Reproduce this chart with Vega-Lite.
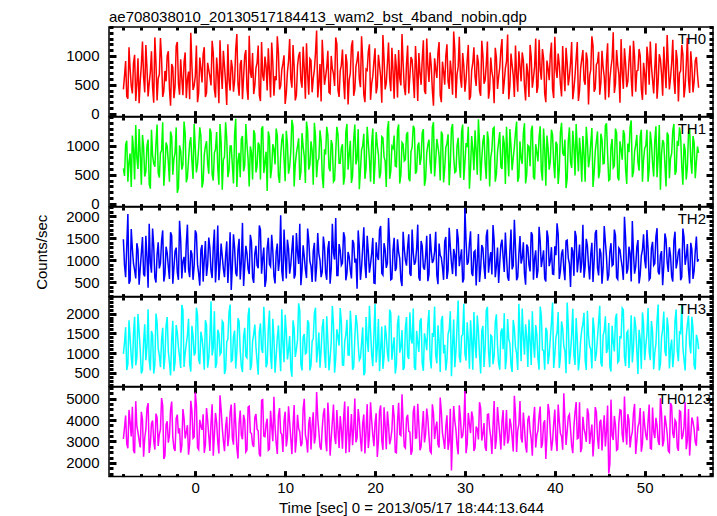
{
"$schema": "https://vega.github.io/schema/vega-lite/v6.json",
"padding": {"left": 33, "top": 8, "right": 6, "bottom": 0},
"spacing": 0,
"bounds": "flush",
"config": {
  "view": {"stroke": "black", "strokeWidth": 1.5},
  "font": "Liberation Sans",
  "axis": {"domain": false, "grid": false, "ticks": true, "tickColor": "black", "tickWidth": 3, "labelFont": "Liberation Sans", "labelFontSize": 15, "labelColor": "black", "labelOverlap": false, "labelFlush": false, "titleFont": "Liberation Sans", "titleFontSize": 15, "titleFontWeight": "normal", "titleColor": "black", "format": "d"},
  "title": {"fontSize": 15, "fontWeight": "normal", "font": "Liberation Sans", "color": "black"}
},
"data": {"values": [
{"t":-8,"a":420,"b":610,"c":1480,"d":980,"e":3120},
{"t":-7.75,"a":910,"b":1020,"c":620,"d":1650,"e":4210},
{"t":-7.5,"a":260,"b":380,"c":2050,"d":720,"e":2680},
{"t":-7.25,"a":780,"b":870,"c":540,"d":1380,"e":3890},
{"t":-7,"a":350,"b":1180,"c":1260,"d":610,"e":4620},
{"t":-6.75,"a":1020,"b":420,"c":780,"d":1920,"e":2450},
{"t":-6.5,"a":510,"b":790,"c":1390,"d":890,"e":3710},
{"t":-6.25,"a":180,"b":1290,"c":450,"d":1540,"e":3050},
{"t":-6,"a":840,"b":330,"c":1170,"d":480,"e":4380},
{"t":-5.75,"a":630,"b":980,"c":690,"d":1270,"e":2290},
{"t":-5.5,"a":1190,"b":560,"c":1560,"d":820,"e":3560},
{"t":-5.25,"a":300,"b":1110,"c":380,"d":2110,"e":4790},
{"t":-5,"a":720,"b":260,"c":940,"d":560,"e":2870},
{"t":-4.75,"a":460,"b":830,"c":1720,"d":1460,"e":3980},
{"t":-4.5,"a":1320,"b":640,"c":610,"d":700,"e":2620},
{"t":-4.25,"a":230,"b":1370,"c":1130,"d":1780,"e":4110},
{"t":-4,"a":680,"b":450,"c":820,"d":940,"e":3330},
{"t":-3.75,"a":950,"b":920,"c":1450,"d":1330,"e":5020},
{"t":-3.5,"a":390,"b":310,"c":520,"d":590,"e":2180},
{"t":-3.25,"a":560,"b":1060,"c":1310,"d":1690,"e":3780},
{"t":-3,"a":1080,"b":720,"c":860,"d":1040,"e":2940},
{"t":-2.75,"a":140,"b":1250,"c":1640,"d":430,"e":4470},
{"t":-2.5,"a":800,"b":500,"c":470,"d":1820,"e":3190},
{"t":-2.25,"a":470,"b":880,"c":1210,"d":760,"e":2560},
{"t":-2,"a":1240,"b":190,"c":730,"d":1510,"e":4250},
{"t":-1.75,"a":330,"b":1010,"c":1900,"d":910,"e":3610},
{"t":-1.5,"a":610,"b":590,"c":590,"d":2220,"e":2790},
{"t":-1.25,"a":890,"b":1420,"c":1080,"d":650,"e":4080},
{"t":-1,"a":270,"b":370,"c":1380,"d":1230,"e":3420},
{"t":-0.75,"a":730,"b":760,"c":800,"d":1870,"e":2380},
{"t":-0.5,"a":1400,"b":1150,"c":1230,"d":530,"e":4900},
{"t":-0.25,"a":410,"b":430,"c":560,"d":1440,"e":3150},
{"t":0,"a":650,"b":960,"c":1680,"d":1010,"e":5280},
{"t":0.25,"a":200,"b":680,"c":910,"d":1960,"e":2710},
{"t":0.5,"a":970,"b":1320,"c":430,"d":720,"e":4010},
{"t":0.75,"a":540,"b":280,"c":1350,"d":1370,"e":3540},
{"t":1,"a":1150,"b":850,"c":1020,"d":580,"e":2470},
{"t":1.25,"a":360,"b":1080,"c":650,"d":1710,"e":4560},
{"t":1.5,"a":760,"b":520,"c":1520,"d":870,"e":3280},
{"t":1.75,"a":490,"b":1230,"c":760,"d":2310,"e":3870},
{"t":2,"a":1050,"b":400,"c":1290,"d":1130,"e":2330},
{"t":2.25,"a":280,"b":940,"c":500,"d":620,"e":4330},
{"t":2.5,"a":700,"b":620,"c":1790,"d":1590,"e":2980},
{"t":2.75,"a":1270,"b":1380,"c":880,"d":960,"e":5150},
{"t":3,"a":430,"b":240,"c":1100,"d":1810,"e":3640},
{"t":3.25,"a":820,"b":810,"c":620,"d":470,"e":2550},
{"t":3.5,"a":150,"b":1120,"c":1430,"d":1290,"e":4150},
{"t":3.75,"a":590,"b":570,"c":960,"d":2020,"e":3260},
{"t":4,"a":930,"b":1000,"c":330,"d":790,"e":4720},
{"t":4.25,"a":380,"b":350,"c":1590,"d":1420,"e":2850},
{"t":4.5,"a":1120,"b":1470,"c":720,"d":610,"e":3800},
{"t":4.75,"a":520,"b":730,"c":1240,"d":1880,"e":2200},
{"t":5,"a":860,"b":460,"c":570,"d":1060,"e":4440},
{"t":5.25,"a":250,"b":1170,"c":1850,"d":520,"e":3100},
{"t":5.5,"a":1010,"b":660,"c":880,"d":1640,"e":3990},
{"t":5.75,"a":440,"b":1030,"c":1160,"d":880,"e":2600},
{"t":6,"a":1350,"b":300,"c":690,"d":2150,"e":4640},
{"t":6.25,"a":620,"b":890,"c":1420,"d":680,"e":3370},
{"t":6.5,"a":340,"b":1270,"c":490,"d":1480,"e":2750},
{"t":6.75,"a":790,"b":540,"c":1330,"d":1150,"e":4280},
{"t":7,"a":1180,"b":1060,"c":820,"d":450,"e":3490},
{"t":7.25,"a":220,"b":420,"c":1690,"d":1750,"e":2300},
{"t":7.5,"a":660,"b":1340,"c":1050,"d":1000,"e":4950},
{"t":7.75,"a":990,"b":710,"c":400,"d":1550,"e":3220},
{"t":8,"a":400,"b":220,"c":1280,"d":730,"e":4060},
{"t":8.25,"a":740,"b":1150,"c":910,"d":2080,"e":2640},
{"t":8.5,"a":1230,"b":610,"c":1580,"d":600,"e":3720},
{"t":8.75,"a":310,"b":950,"c":640,"d":1360,"e":5080},
{"t":9,"a":580,"b":1300,"c":1190,"d":930,"e":2920},
{"t":9.25,"a":1060,"b":480,"c":760,"d":1700,"e":4190},
{"t":9.5,"a":480,"b":830,"c":2020,"d":540,"e":3410},
{"t":9.75,"a":870,"b":1210,"c":530,"d":1250,"e":2510},
{"t":10,"a":170,"b":390,"c":1110,"d":1970,"e":4390},
{"t":10.25,"a":720,"b":1040,"c":1470,"d":840,"e":3180},
{"t":10.5,"a":1290,"b":640,"c":700,"d":1430,"e":3900},
{"t":10.75,"a":450,"b":1450,"c":1250,"d":400,"e":2410},
{"t":11,"a":810,"b":300,"c":590,"d":1620,"e":4700},
{"t":11.25,"a":320,"b":870,"c":1620,"d":1090,"e":3060},
{"t":11.5,"a":1000,"b":1130,"c":920,"d":2260,"e":3610},
{"t":11.75,"a":570,"b":550,"c":440,"d":700,"e":2780},
{"t":12,"a":1160,"b":990,"c":1340,"d":1400,"e":4520},
{"t":12.25,"a":260,"b":360,"c":790,"d":980,"e":3300},
{"t":12.5,"a":690,"b":1260,"c":1720,"d":1830,"e":2480},
{"t":12.75,"a":950,"b":670,"c":980,"d":560,"e":4140},
{"t":13,"a":370,"b":920,"c":510,"d":1300,"e":3750},
{"t":13.25,"a":760,"b":1400,"c":1400,"d":2000,"e":2900},
{"t":13.5,"a":1440,"b":460,"c":860,"d":760,"e":5310},
{"t":13.75,"a":530,"b":780,"c":1150,"d":1520,"e":3460},
{"t":14,"a":210,"b":1090,"c":620,"d":1080,"e":2610},
{"t":14.25,"a":880,"b":270,"c":1540,"d":1860,"e":4290},
{"t":14.5,"a":640,"b":850,"c":730,"d":620,"e":3030},
{"t":14.75,"a":1090,"b":1190,"c":1260,"d":1330,"e":4810},
{"t":15,"a":350,"b":560,"c":470,"d":870,"e":2340},
{"t":15.25,"a":780,"b":1020,"c":1830,"d":2190,"e":3930},
{"t":15.5,"a":480,"b":410,"c":1020,"d":500,"e":3220},
{"t":15.75,"a":1210,"b":1330,"c":660,"d":1600,"e":4470},
{"t":16,"a":290,"b":700,"c":1370,"d":1190,"e":2700},
{"t":16.25,"a":840,"b":960,"c":890,"d":1790,"e":3580},
{"t":16.5,"a":560,"b":330,"c":1640,"d":690,"e":4080},
{"t":16.75,"a":1030,"b":1240,"c":550,"d":1470,"e":2450},
{"t":17,"a":160,"b":590,"c":1190,"d":950,"e":4640},
{"t":17.25,"a":700,"b":1090,"c":780,"d":2070,"e":3360},
{"t":17.5,"a":1270,"b":480,"c":1460,"d":580,"e":2820},
{"t":17.75,"a":420,"b":1370,"c":950,"d":1390,"e":5000},
{"t":18,"a":920,"b":780,"c":360,"d":1720,"e":3150},
{"t":18.25,"a":600,"b":250,"c":1310,"d":820,"e":4000},
{"t":18.5,"a":1340,"b":930,"c":840,"d":1240,"e":2530},
{"t":18.75,"a":330,"b":1210,"c":1750,"d":440,"e":4260},
{"t":19,"a":770,"b":620,"c":600,"d":1910,"e":3480},
{"t":19.25,"a":1070,"b":1050,"c":1200,"d":1030,"e":2690},
{"t":19.5,"a":240,"b":380,"c":920,"d":1560,"e":4830},
{"t":19.75,"a":650,"b":1300,"c":1510,"d":670,"e":3290},
{"t":20,"a":1130,"b":700,"c":480,"d":2240,"e":3860},
{"t":20.25,"a":470,"b":1010,"c":1100,"d":1120,"e":2280},
{"t":20.5,"a":830,"b":440,"c":1690,"d":540,"e":4410},
{"t":20.75,"a":190,"b":1160,"c":710,"d":1670,"e":3040},
{"t":21,"a":960,"b":810,"c":1390,"d":900,"e":4590},
{"t":21.25,"a":530,"b":290,"c":830,"d":1440,"e":2640},
{"t":21.5,"a":1230,"b":1430,"c":1960,"d":780,"e":3770},
{"t":21.75,"a":390,"b":560,"c":560,"d":2010,"e":3110},
{"t":22,"a":740,"b":960,"c":1240,"d":1160,"e":4700},
{"t":22.25,"a":1030,"b":650,"c":760,"d":480,"e":2500},
{"t":22.5,"a":280,"b":1280,"c":1480,"d":1740,"e":3950},
{"t":22.75,"a":610,"b":350,"c":1040,"d":1010,"e":3330},
{"t":23,"a":1380,"b":1060,"c":420,"d":1580,"e":5200},
{"t":23.25,"a":460,"b":740,"c":1270,"d":630,"e":2760},
{"t":23.5,"a":860,"b":1200,"c":880,"d":1910,"e":4090},
{"t":23.75,"a":350,"b":440,"c":1590,"d":850,"e":3470},
{"t":24,"a":980,"b":900,"c":650,"d":1350,"e":2380},
{"t":24.25,"a":600,"b":1350,"c":1180,"d":2130,"e":4380},
{"t":24.5,"a":1170,"b":520,"c":970,"d":570,"e":3160},
{"t":24.75,"a":220,"b":1000,"c":1810,"d":1260,"e":4760},
{"t":25,"a":710,"b":670,"c":540,"d":1800,"e":2590},
{"t":25.25,"a":940,"b":1230,"c":1330,"d":740,"e":3680},
{"t":25.5,"a":400,"b":310,"c":790,"d":1500,"e":2950},
{"t":25.75,"a":1300,"b":880,"c":1560,"d":1070,"e":4530},
{"t":26,"a":550,"b":1110,"c":680,"d":2090,"e":3240},
{"t":26.25,"a":830,"b":520,"c":1220,"d":610,"e":2460},
{"t":26.5,"a":140,"b":1410,"c":1000,"d":1410,"e":4320},
{"t":26.75,"a":770,"b":760,"c":1650,"d":940,"e":3640},
{"t":27,"a":1060,"b":990,"c":460,"d":1700,"e":2870},
{"t":27.25,"a":320,"b":400,"c":1120,"d":520,"e":5050},
{"t":27.5,"a":900,"b":1190,"c":850,"d":1940,"e":3400},
{"t":27.75,"a":500,"b":610,"c":1430,"d":1210,"e":2650},
{"t":28,"a":1200,"b":1040,"c":580,"d":830,"e":4220},
{"t":28.25,"a":430,"b":320,"c":1740,"d":1590,"e":3000},
{"t":28.5,"a":690,"b":1300,"c":940,"d":410,"e":1650},
{"t":28.75,"a":1420,"b":810,"c":1260,"d":1850,"e":4650},
{"t":29,"a":270,"b":560,"c":640,"d":1040,"e":3540},
{"t":29.25,"a":810,"b":1140,"c":1500,"d":2330,"e":2400},
{"t":29.5,"a":620,"b":450,"c":1060,"d":760,"e":4120},
{"t":29.75,"a":1050,"b":1370,"c":500,"d":1470,"e":3260},
{"t":30,"a":380,"b":720,"c":2180,"d":980,"e":5350},
{"t":30.25,"a":920,"b":980,"c":900,"d":1780,"e":2860},
{"t":30.5,"a":240,"b":260,"c":1380,"d":600,"e":3820},
{"t":30.75,"a":750,"b":1170,"c":710,"d":1320,"e":4400},
{"t":31,"a":1150,"b":580,"c":1190,"d":2040,"e":2560},
{"t":31.25,"a":480,"b":920,"c":430,"d":870,"e":3700},
{"t":31.5,"a":880,"b":1460,"c":1600,"d":1550,"e":3090},
{"t":31.75,"a":310,"b":400,"c":820,"d":480,"e":4570},
{"t":32,"a":1010,"b":1080,"c":1280,"d":1690,"e":3350},
{"t":32.25,"a":580,"b":690,"c":580,"d":1130,"e":2720},
{"t":32.5,"a":1250,"b":1250,"c":1700,"d":2170,"e":4260},
{"t":32.75,"a":420,"b":300,"c":1010,"d":640,"e":3590},
{"t":33,"a":730,"b":930,"c":680,"d":1420,"e":2420},
{"t":33.25,"a":180,"b":1320,"c":1450,"d":920,"e":4890},
{"t":33.5,"a":970,"b":510,"c":870,"d":1980,"e":3080},
{"t":33.75,"a":640,"b":1070,"c":490,"d":740,"e":3930},
{"t":34,"a":1110,"b":640,"c":1350,"d":1530,"e":2620},
{"t":34.25,"a":340,"b":1180,"c":1070,"d":1100,"e":4460},
{"t":34.5,"a":790,"b":340,"c":1630,"d":590,"e":3430},
{"t":34.75,"a":1370,"b":850,"c":620,"d":1860,"e":2900},
{"t":35,"a":470,"b":1290,"c":1200,"d":1240,"e":4070},
{"t":35.25,"a":850,"b":580,"c":800,"d":520,"e":3200},
{"t":35.5,"a":290,"b":980,"c":1920,"d":1620,"e":5130},
{"t":35.75,"a":670,"b":1420,"c":550,"d":990,"e":2510},
{"t":36,"a":1080,"b":460,"c":1140,"d":2250,"e":3790},
{"t":36.25,"a":560,"b":780,"c":930,"d":790,"e":3150},
{"t":36.5,"a":920,"b":1220,"c":1410,"d":1410,"e":4350},
{"t":36.75,"a":230,"b":350,"c":450,"d":1730,"e":2780},
{"t":37,"a":700,"b":1010,"c":1300,"d":650,"e":4010},
{"t":37.25,"a":1190,"b":650,"c":750,"d":1290,"e":3520},
{"t":37.5,"a":450,"b":1350,"c":1580,"d":2060,"e":2330},
{"t":37.75,"a":810,"b":420,"c":1040,"d":880,"e":4610},
{"t":38,"a":360,"b":890,"c":600,"d":1460,"e":3300},
{"t":38.25,"a":1280,"b":1150,"c":1760,"d":580,"e":4180},
{"t":38.5,"a":590,"b":570,"c":850,"d":1950,"e":2690},
{"t":38.75,"a":960,"b":1300,"c":1230,"d":1060,"e":3840},
{"t":39,"a":200,"b":310,"c":520,"d":1640,"e":2180},
{"t":39.25,"a":780,"b":970,"c":1530,"d":720,"e":4750},
{"t":39.5,"a":1020,"b":730,"c":990,"d":1370,"e":3410},
{"t":39.75,"a":430,"b":1190,"c":690,"d":2280,"e":3020},
{"t":40,"a":1330,"b":440,"c":1320,"d":950,"e":4490},
{"t":40.25,"a":620,"b":1020,"c":1840,"d":1520,"e":2550},
{"t":40.5,"a":850,"b":600,"c":580,"d":620,"e":3950},
{"t":40.75,"a":300,"b":1400,"c":1150,"d":1800,"e":3240},
{"t":41,"a":720,"b":830,"c":800,"d":1180,"e":5250},
{"t":41.25,"a":1140,"b":270,"c":1440,"d":490,"e":2840},
{"t":41.5,"a":490,"b":1080,"c":1050,"d":1700,"e":4150},
{"t":41.75,"a":870,"b":720,"c":400,"d":1020,"e":3560},
{"t":42,"a":250,"b":1260,"c":1210,"d":2120,"e":2450},
{"t":42.25,"a":660,"b":490,"c":1670,"d":700,"e":4370},
{"t":42.5,"a":1240,"b":940,"c":730,"d":1340,"e":3130},
{"t":42.75,"a":400,"b":1140,"c":1360,"d":850,"e":4830},
{"t":43,"a":950,"b":380,"c":960,"d":1590,"e":2700},
{"t":43.25,"a":580,"b":860,"c":610,"d":2020,"e":3600},
{"t":43.5,"a":1060,"b":1330,"c":1490,"d":570,"e":2980},
{"t":43.75,"a":160,"b":630,"c":880,"d":1450,"e":4290},
{"t":44,"a":760,"b":1050,"c":1140,"d":1090,"e":3380},
{"t":44.25,"a":1180,"b":290,"c":510,"d":1900,"e":2300},
{"t":44.5,"a":440,"b":910,"c":1620,"d":800,"e":4600},
{"t":44.75,"a":890,"b":1250,"c":830,"d":1390,"e":3180},
{"t":45,"a":330,"b":560,"c":1270,"d":2200,"e":3900},
{"t":45.25,"a":1090,"b":1110,"c":470,"d":660,"e":2580},
{"t":45.5,"a":640,"b":700,"c":1780,"d":1560,"e":4220},
{"t":45.75,"a":920,"b":1390,"c":1080,"d":1000,"e":3480},
{"t":46,"a":280,"b":400,"c":660,"d":1760,"e":1500},
{"t":46.25,"a":800,"b":980,"c":1390,"d":530,"e":4950},
{"t":46.5,"a":1410,"b":620,"c":910,"d":1280,"e":3070},
{"t":46.75,"a":520,"b":1300,"c":1560,"d":1870,"e":3750},
{"t":47,"a":840,"b":460,"c":570,"d":760,"e":2640},
{"t":47.25,"a":190,"b":1080,"c":1240,"d":1430,"e":4480},
{"t":47.5,"a":710,"b":760,"c":840,"d":2140,"e":3320},
{"t":47.75,"a":1130,"b":1200,"c":1990,"d":900,"e":5100},
{"t":48,"a":460,"b":340,"c":700,"d":1510,"e":2850},
{"t":48.25,"a":900,"b":890,"c":1310,"d":620,"e":3980},
{"t":48.5,"a":620,"b":1440,"c":520,"d":1960,"e":3210},
{"t":48.75,"a":1260,"b":550,"c":1170,"d":1140,"e":4320},
{"t":49,"a":380,"b":1020,"c":860,"d":1670,"e":2420},
{"t":49.25,"a":750,"b":720,"c":1460,"d":470,"e":3680},
{"t":49.5,"a":1000,"b":1160,"c":670,"d":1350,"e":4560},
{"t":49.75,"a":240,"b":380,"c":1230,"d":2030,"e":2900},
{"t":50,"a":690,"b":960,"c":1010,"d":820,"e":3750},
{"t":50.25,"a":1160,"b":1280,"c":1690,"d":1480,"e":3060},
{"t":50.5,"a":500,"b":600,"c":560,"d":1030,"e":4720},
{"t":50.75,"a":830,"b":1050,"c":1280,"d":1810,"e":2650},
{"t":51,"a":350,"b":470,"c":890,"d":590,"e":3450},
{"t":51.25,"a":1220,"b":1340,"c":1540,"d":1240,"e":4100},
{"t":51.5,"a":560,"b":810,"c":740,"d":2230,"e":3000},
{"t":51.75,"a":940,"b":240,"c":1120,"d":710,"e":5020},
{"t":52,"a":310,"b":1100,"c":440,"d":1600,"e":2770},
{"t":52.25,"a":780,"b":670,"c":1610,"d":1050,"e":4210},
{"t":52.5,"a":1360,"b":1230,"c":960,"d":1900,"e":3370},
{"t":52.75,"a":420,"b":440,"c":1300,"d":610,"e":2490},
{"t":53,"a":870,"b":870,"c":630,"d":1340,"e":4660},
{"t":53.25,"a":590,"b":1380,"c":1450,"d":980,"e":3160},
{"t":53.5,"a":1100,"b":560,"c":820,"d":2100,"e":3890},
{"t":53.75,"a":210,"b":1000,"c":1190,"d":790,"e":2560},
{"t":54,"a":740,"b":1170,"c":550,"d":1500,"e":4390},
{"t":54.25,"a":1020,"b":330,"c":1720,"d":1150,"e":3270},
{"t":54.5,"a":470,"b":930,"c":900,"d":560,"e":4830},
{"t":54.75,"a":1310,"b":640,"c":1370,"d":1730,"e":3040},
{"t":55,"a":360,"b":1310,"c":480,"d":1220,"e":2340},
{"t":55.25,"a":820,"b":520,"c":1250,"d":1920,"e":4120},
{"t":55.5,"a":560,"b":1060,"c":760,"d":690,"e":3570},
{"t":55.75,"a":980,"b":720,"c":1540,"d":1460,"e":2800},
{"t":56,"a":450,"b":880,"c":1030,"d":1100,"e":3500},
{"t":-7.875,"a":650,"b":480,"c":890,"d":1260,"e":3640},
{"t":-7.625,"a":300,"b":1090,"c":1320,"d":570,"e":2890},
{"t":-7.375,"a":1150,"b":720,"c":470,"d":1830,"e":4470},
{"t":-7.125,"a":480,"b":290,"c":1710,"d":900,"e":3230},
{"t":-6.875,"a":870,"b":940,"c":930,"d":1480,"e":2570},
{"t":-6.625,"a":220,"b":1360,"c":590,"d":690,"e":4880},
{"t":-6.375,"a":960,"b":600,"c":1240,"d":1990,"e":3420},
{"t":-6.125,"a":560,"b":850,"c":820,"d":1070,"e":2720},
{"t":-5.875,"a":1250,"b":1190,"c":1530,"d":560,"e":4010},
{"t":-5.625,"a":370,"b":470,"c":640,"d":1730,"e":3160},
{"t":-5.375,"a":790,"b":1000,"c":1070,"d":1180,"e":4540},
{"t":-5.125,"a":530,"b":340,"c":1830,"d":810,"e":2460},
{"t":-4.875,"a":1080,"b":1280,"c":720,"d":1560,"e":3830},
{"t":-4.625,"a":190,"b":700,"c":1330,"d":480,"e":3050},
{"t":-4.375,"a":880,"b":1030,"c":500,"d":2000,"e":4300},
{"t":-4.125,"a":610,"b":530,"c":1410,"d":1110,"e":2790},
{"t":-3.875,"a":1310,"b":880,"c":930,"d":640,"e":3560},
{"t":-3.625,"a":290,"b":1410,"c":1680,"d":1640,"e":4660},
{"t":-3.375,"a":740,"b":620,"c":680,"d":900,"e":2340},
{"t":-3.125,"a":1000,"b":990,"c":1170,"d":1910,"e":3940},
{"t":-2.875,"a":430,"b":380,"c":580,"d":760,"e":3280},
{"t":-2.625,"a":860,"b":1160,"c":1560,"d":1340,"e":4860},
{"t":-2.375,"a":270,"b":780,"c":840,"d":540,"e":2680},
{"t":-2.125,"a":1170,"b":1320,"c":1290,"d":1710,"e":4080},
{"t":-1.875,"a":520,"b":270,"c":560,"d":1150,"e":3370},
{"t":-1.625,"a":940,"b":920,"c":1470,"d":620,"e":2480},
{"t":-1.375,"a":320,"b":670,"c":980,"d":2090,"e":4510},
{"t":-1.125,"a":1060,"b":1220,"c":720,"d":1000,"e":3140},
{"t":-0.875,"a":590,"b":460,"c":1810,"d":1450,"e":3760},
{"t":-0.625,"a":250,"b":1050,"c":620,"d":720,"e":2890},
{"t":-0.375,"a":830,"b":730,"c":1150,"d":1690,"e":4420},
{"t":-0.125,"a":480,"b":1380,"c":880,"d":940,"e":3210},
{"t":0.125,"a":1180,"b":540,"c":1600,"d":2150,"e":4690},
{"t":0.375,"a":360,"b":960,"c":700,"d":840,"e":2620},
{"t":0.625,"a":790,"b":1170,"c":1240,"d":1540,"e":3700},
{"t":0.875,"a":1030,"b":380,"c":520,"d":1080,"e":4270},
{"t":1.125,"a":290,"b":990,"c":1440,"d":1830,"e":2850},
{"t":1.375,"a":880,"b":700,"c":890,"d":630,"e":3990},
{"t":1.625,"a":640,"b":1300,"c":1280,"d":1390,"e":2560},
{"t":1.875,"a":1260,"b":510,"c":600,"d":940,"e":4730},
{"t":2.125,"a":420,"b":880,"c":1700,"d":2060,"e":3310},
{"t":2.375,"a":970,"b":1240,"c":980,"d":740,"e":3890},
{"t":2.625,"a":180,"b":330,"c":550,"d":1500,"e":2440},
{"t":2.875,"a":740,"b":1060,"c":1380,"d":1010,"e":4500},
{"t":3.125,"a":1090,"b":760,"c":810,"d":1760,"e":3040},
{"t":3.375,"a":530,"b":1410,"c":1110,"d":590,"e":3680},
{"t":3.625,"a":1200,"b":460,"c":490,"d":1350,"e":2780},
{"t":3.875,"a":400,"b":1000,"c":1640,"d":2230,"e":4360},
{"t":4.125,"a":800,"b":660,"c":870,"d":820,"e":3150},
{"t":4.375,"a":570,"b":1200,"c":1280,"d":1570,"e":4790},
{"t":4.625,"a":1380,"b":290,"c":640,"d":1030,"e":2690},
{"t":4.875,"a":310,"b":880,"c":1490,"d":1800,"e":3840},
{"t":5.125,"a":930,"b":1120,"c":970,"d":660,"e":3300},
{"t":5.375,"a":640,"b":560,"c":420,"d":1420,"e":4240},
{"t":5.625,"a":1100,"b":1380,"c":1330,"d":920,"e":2510},
{"t":5.875,"a":240,"b":770,"c":800,"d":1950,"e":4600},
{"t":6.125,"a":720,"b":990,"c":1580,"d":570,"e":3420},
{"t":6.375,"a":1050,"b":420,"c":610,"d":1300,"e":2860},
{"t":6.625,"a":490,"b":1210,"c":1150,"d":1720,"e":4120},
{"t":6.875,"a":880,"b":650,"c":890,"d":790,"e":3570},
{"t":7.125,"a":320,"b":1010,"c":1790,"d":1530,"e":2400},
{"t":7.375,"a":1240,"b":1300,"c":700,"d":1100,"e":4920},
{"t":7.625,"a":570,"b":530,"c":1290,"d":2170,"e":3250},
{"t":7.875,"a":820,"b":900,"c":560,"d":640,"e":3800},
{"t":8.125,"a":1130,"b":1250,"c":1510,"d":1600,"e":2590},
{"t":8.375,"a":280,"b":440,"c":860,"d":950,"e":4430},
{"t":8.625,"a":890,"b":1030,"c":1220,"d":1870,"e":3010},
{"t":8.875,"a":650,"b":680,"c":480,"d":500,"e":3690},
{"t":9.125,"a":1340,"b":1180,"c":1380,"d":1380,"e":2420},
{"t":9.375,"a":420,"b":360,"c":1010,"d":1020,"e":4560},
{"t":9.625,"a":760,"b":1100,"c":760,"d":2110,"e":3330},
{"t":9.875,"a":1010,"b":760,"c":1700,"d":770,"e":3980},
{"t":10.125,"a":350,"b":1260,"c":590,"d":1560,"e":2770},
{"t":10.375,"a":910,"b":520,"c":1260,"d":1070,"e":4640},
{"t":10.625,"a":600,"b":900,"c":900,"d":610,"e":3140},
{"t":10.875,"a":1190,"b":1340,"c":1570,"d":1830,"e":3760},
{"t":11.125,"a":230,"b":680,"c":680,"d":900,"e":2480},
{"t":11.375,"a":830,"b":990,"c":1180,"d":1340,"e":4240},
{"t":11.625,"a":1070,"b":410,"c":1830,"d":2080,"e":3450},
{"t":11.875,"a":450,"b":1220,"c":780,"d":560,"e":2900},
{"t":12.125,"a":780,"b":820,"c":1090,"d":1480,"e":4990},
{"t":12.375,"a":1220,"b":1420,"c":600,"d":1010,"e":3050},
{"t":12.625,"a":330,"b":590,"c":1450,"d":1760,"e":3870},
{"t":12.875,"a":920,"b":1080,"c":870,"d":690,"e":2630},
{"t":13.125,"a":610,"b":330,"c":1210,"d":1370,"e":4360},
{"t":13.375,"a":1060,"b":1160,"c":520,"d":2150,"e":3240},
{"t":13.625,"a":280,"b":740,"c":1620,"d":1100,"e":4100},
{"t":13.875,"a":860,"b":1270,"c":1000,"d":630,"e":2750},
{"t":14.125,"a":1280,"b":480,"c":740,"d":1650,"e":3630},
{"t":14.375,"a":500,"b":940,"c":1300,"d":980,"e":4550},
{"t":14.625,"a":800,"b":1330,"c":560,"d":1930,"e":2540},
{"t":14.875,"a":370,"b":620,"c":1440,"d":560,"e":3940},
{"t":15.125,"a":1000,"b":1100,"c":810,"d":1280,"e":3180},
{"t":15.375,"a":690,"b":380,"c":1170,"d":1720,"e":4720},
{"t":15.625,"a":1320,"b":880,"c":1960,"d":870,"e":2880},
{"t":15.875,"a":410,"b":1200,"c":660,"d":1430,"e":3550},
{"t":16.125,"a":740,"b":700,"c":1230,"d":2140,"e":4180},
{"t":16.375,"a":1110,"b":1030,"c":940,"d":700,"e":2660},
{"t":16.625,"a":250,"b":470,"c":1520,"d":1290,"e":4860},
{"t":16.875,"a":880,"b":1380,"c":710,"d":1840,"e":3390},
{"t":17.125,"a":590,"b":850,"c":1080,"d":950,"e":2500},
{"t":17.375,"a":1170,"b":360,"c":590,"d":1590,"e":4280},
{"t":17.625,"a":310,"b":1120,"c":1390,"d":640,"e":3600},
{"t":17.875,"a":820,"b":680,"c":1040,"d":1960,"e":2960},
{"t":18.125,"a":1080,"b":1290,"c":1680,"d":1200,"e":4510},
{"t":18.375,"a":460,"b":580,"c":560,"d":880,"e":3130},
{"t":18.625,"a":950,"b":1000,"c":1280,"d":1650,"e":3850},
{"t":18.875,"a":200,"b":430,"c":900,"d":510,"e":2440},
{"t":19.125,"a":750,"b":1330,"c":1560,"d":1340,"e":4740},
{"t":19.375,"a":1200,"b":760,"c":720,"d":2200,"e":3260},
{"t":19.625,"a":520,"b":1060,"c":1160,"d":970,"e":3980},
{"t":19.875,"a":910,"b":340,"c":490,"d":1510,"e":2780},
{"t":20.125,"a":350,"b":1240,"c":1410,"d":760,"e":4320},
{"t":20.375,"a":1020,"b":850,"c":1010,"d":1860,"e":3010},
{"t":20.625,"a":640,"b":530,"c":1780,"d":1110,"e":4680},
{"t":20.875,"a":1360,"b":1140,"c":670,"d":600,"e":2610},
{"t":21.125,"a":420,"b":740,"c":1240,"d":1700,"e":3720},
{"t":21.375,"a":870,"b":1280,"c":940,"d":1000,"e":4400},
{"t":21.625,"a":600,"b":430,"c":1380,"d":2100,"e":2870},
{"t":21.875,"a":1140,"b":990,"c":580,"d":830,"e":3540},
{"t":22.125,"a":260,"b":1180,"c":1510,"d":1400,"e":4150},
{"t":22.375,"a":790,"b":640,"c":830,"d":690,"e":2470},
{"t":22.625,"a":1100,"b":1370,"c":1180,"d":1950,"e":4800},
{"t":22.875,"a":490,"b":500,"c":550,"d":1150,"e":3280},
{"t":23.125,"a":870,"b":1030,"c":1650,"d":570,"e":3860},
{"t":23.375,"a":320,"b":760,"c":1000,"d":1640,"e":2690},
{"t":23.625,"a":1180,"b":1240,"c":1300,"d":920,"e":4240},
{"t":23.875,"a":650,"b":390,"c":700,"d":2030,"e":3430},
{"t":24.125,"a":930,"b":980,"c":1700,"d":1240,"e":2560},
{"t":24.375,"a":270,"b":1300,"c":900,"d":640,"e":4660},
{"t":24.625,"a":780,"b":560,"c":1260,"d":1560,"e":3170},
{"t":24.875,"a":1050,"b":1060,"c":610,"d":1030,"e":3790},
{"t":25.125,"a":500,"b":790,"c":1440,"d":1880,"e":2770},
{"t":25.375,"a":1270,"b":1290,"c":850,"d":550,"e":4420},
{"t":25.625,"a":340,"b":430,"c":1090,"d":1330,"e":3340},
{"t":25.875,"a":820,"b":1020,"c":530,"d":1730,"e":4060},
{"t":26.125,"a":1060,"b":710,"c":1600,"d":870,"e":2540},
{"t":26.375,"a":410,"b":1320,"c":940,"d":1510,"e":4730},
{"t":26.625,"a":960,"b":470,"c":1200,"d":2180,"e":3110},
{"t":26.875,"a":620,"b":1120,"c":660,"d":740,"e":3930},
{"t":27.125,"a":1240,"b":830,"c":1380,"d":1300,"e":2720},
{"t":27.375,"a":200,"b":1250,"c":1060,"d":1830,"e":4380},
{"t":27.625,"a":730,"b":370,"c":560,"d":990,"e":3050},
{"t":27.875,"a":1000,"b":970,"c":1530,"d":560,"e":3700},
{"t":28.125,"a":560,"b":1200,"c":780,"d":1480,"e":2610},
{"t":28.375,"a":920,"b":700,"c":1300,"d":2060,"e":4520},
{"t":28.625,"a":330,"b":1380,"c":690,"d":1180,"e":3290},
{"t":28.875,"a":1100,"b":540,"c":1120,"d":640,"e":3960},
{"t":29.125,"a":680,"b":1000,"c":1710,"d":1690,"e":2820},
{"t":29.375,"a":1330,"b":680,"c":870,"d":900,"e":4690},
{"t":29.625,"a":450,"b":1240,"c":1250,"d":1420,"e":3150},
{"t":29.875,"a":830,"b":410,"c":580,"d":2250,"e":3800},
{"t":30.125,"a":590,"b":1050,"c":1440,"d":810,"e":2450},
{"t":30.375,"a":1190,"b":1330,"c":960,"d":1330,"e":4330},
{"t":30.625,"a":300,"b":620,"c":1660,"d":1830,"e":3390},
{"t":30.875,"a":880,"b":930,"c":650,"d":580,"e":4110},
{"t":31.125,"a":640,"b":1270,"c":1220,"d":1250,"e":2700},
{"t":31.375,"a":1020,"b":500,"c":1010,"d":1950,"e":3580},
{"t":31.625,"a":400,"b":1060,"c":510,"d":940,"e":4830},
{"t":31.875,"a":1260,"b":780,"c":1350,"d":1560,"e":3040},
{"t":32.125,"a":520,"b":1190,"c":860,"d":650,"e":3860},
{"t":32.375,"a":850,"b":430,"c":1550,"d":2080,"e":2560},
{"t":32.625,"a":260,"b":1100,"c":720,"d":1060,"e":4280},
{"t":32.875,"a":970,"b":800,"c":1190,"d":1450,"e":3200},
{"t":33.125,"a":610,"b":1300,"c":1800,"d":720,"e":3710},
{"t":33.375,"a":1140,"b":380,"c":620,"d":1770,"e":2650},
{"t":33.625,"a":430,"b":900,"c":1290,"d":1190,"e":4610},
{"t":33.875,"a":800,"b":1240,"c":950,"d":580,"e":3330},
{"t":34.125,"a":1290,"b":600,"c":1470,"d":1620,"e":3950},
{"t":34.375,"a":550,"b":1040,"c":740,"d":2010,"e":2800},
{"t":34.625,"a":900,"b":1330,"c":1110,"d":880,"e":4470},
{"t":34.875,"a":250,"b":470,"c":540,"d":1360,"e":3080},
{"t":35.125,"a":1040,"b":1000,"c":1700,"d":690,"e":3760},
{"t":35.375,"a":660,"b":800,"c":880,"d":1840,"e":2530},
{"t":35.625,"a":1180,"b":1230,"c":1290,"d":1150,"e":4300},
{"t":35.875,"a":380,"b":380,"c":620,"d":570,"e":3520},
{"t":36.125,"a":830,"b":1080,"c":1550,"d":1530,"e":4890},
{"t":36.375,"a":1060,"b":690,"c":1050,"d":2130,"e":2950},
{"t":36.625,"a":480,"b":1390,"c":700,"d":960,"e":3650},
{"t":36.875,"a":870,"b":500,"c":1360,"d":1390,"e":2480},
{"t":37.125,"a":290,"b":990,"c":900,"d":1850,"e":4200},
{"t":37.375,"a":980,"b":1270,"c":1640,"d":700,"e":3120},
{"t":37.625,"a":620,"b":460,"c":560,"d":1250,"e":4020},
{"t":37.875,"a":1300,"b":1030,"c":1230,"d":1710,"e":2720},
{"t":38.125,"a":470,"b":730,"c":770,"d":850,"e":3500},
{"t":38.375,"a":760,"b":1340,"c":1430,"d":2180,"e":4630},
{"t":38.625,"a":1120,"b":400,"c":1040,"d":1080,"e":2900},
{"t":38.875,"a":350,"b":950,"c":590,"d":580,"e":3990},
{"t":39.125,"a":920,"b":1180,"c":1680,"d":1560,"e":3230},
{"t":39.375,"a":580,"b":590,"c":870,"d":960,"e":4410},
{"t":39.625,"a":1230,"b":1280,"c":1300,"d":1760,"e":2570},
{"t":39.875,"a":270,"b":700,"c":680,"d":620,"e":3840},
{"t":40.125,"a":780,"b":1070,"c":1120,"d":1400,"e":3080},
{"t":40.375,"a":1040,"b":340,"c":1590,"d":2040,"e":4720},
{"t":40.625,"a":510,"b":1230,"c":760,"d":890,"e":3370},
{"t":40.875,"a":1170,"b":880,"c":1250,"d":1620,"e":2610},
{"t":41.125,"a":390,"b":1110,"c":550,"d":1050,"e":4060},
{"t":41.375,"a":880,"b":430,"c":1460,"d":2280,"e":3480},
{"t":41.625,"a":650,"b":1320,"c":920,"d":720,"e":4260},
{"t":41.875,"a":1240,"b":620,"c":1300,"d":1460,"e":2800},
{"t":42.125,"a":430,"b":1000,"c":650,"d":950,"e":3690},
{"t":42.375,"a":960,"b":1380,"c":1540,"d":1890,"e":4840},
{"t":42.625,"a":220,"b":560,"c":1010,"d":560,"e":3170},
{"t":42.875,"a":790,"b":870,"c":720,"d":1320,"e":2500},
{"t":43.125,"a":1100,"b":1170,"c":1810,"d":1740,"e":4150},
{"t":43.375,"a":500,"b":380,"c":860,"d":820,"e":3350},
{"t":43.625,"a":930,"b":1060,"c":1330,"d":2070,"e":4540},
{"t":43.875,"a":660,"b":770,"c":570,"d":1170,"e":2880},
{"t":44.125,"a":1340,"b":1310,"c":1400,"d":610,"e":3790},
{"t":44.375,"a":380,"b":540,"c":980,"d":1600,"e":3060},
{"t":44.625,"a":850,"b":1080,"c":1690,"d":990,"e":4370},
{"t":44.875,"a":1070,"b":440,"c":660,"d":1800,"e":2650},
{"t":45.125,"a":530,"b":1210,"c":1160,"d":760,"e":4010},
{"t":45.375,"a":800,"b":690,"c":830,"d":1450,"e":3560},
{"t":45.625,"a":240,"b":1350,"c":1420,"d":1930,"e":2770},
{"t":45.875,"a":1220,"b":860,"c":540,"d":1100,"e":4680},
{"t":46.125,"a":600,"b":420,"c":1200,"d":650,"e":1950},
{"t":46.375,"a":950,"b":1120,"c":880,"d":1690,"e":3280},
{"t":46.625,"a":360,"b":650,"c":1700,"d":1040,"e":4190},
{"t":46.875,"a":1100,"b":1220,"c":610,"d":2000,"e":2590},
{"t":47.125,"a":680,"b":400,"c":1280,"d":800,"e":3880},
{"t":47.375,"a":1290,"b":940,"c":1020,"d":1370,"e":4450},
{"t":47.625,"a":430,"b":1270,"c":560,"d":2090,"e":2960},
{"t":47.875,"a":870,"b":600,"c":1510,"d":670,"e":3620},
{"t":48.125,"a":560,"b":1040,"c":800,"d":1560,"e":4270},
{"t":48.375,"a":1180,"b":1320,"c":1160,"d":1200,"e":2720},
{"t":48.625,"a":300,"b":460,"c":1890,"d":760,"e":3450},
{"t":48.875,"a":990,"b":900,"c":700,"d":1920,"e":4750},
{"t":49.125,"a":740,"b":1190,"c":1300,"d":1060,"e":3000},
{"t":49.375,"a":1120,"b":570,"c":480,"d":1590,"e":3870},
{"t":49.625,"a":430,"b":1280,"c":1110,"d":600,"e":2520},
{"t":49.875,"a":880,"b":760,"c":1590,"d":1730,"e":4410},
{"t":50.125,"a":330,"b":1000,"c":820,"d":1200,"e":3290},
{"t":50.375,"a":960,"b":380,"c":1270,"d":2140,"e":3940},
{"t":50.625,"a":1250,"b":1250,"c":600,"d":820,"e":2680},
{"t":50.875,"a":580,"b":700,"c":1420,"d":1540,"e":4580},
{"t":51.125,"a":790,"b":1100,"c":930,"d":1010,"e":3160},
{"t":51.375,"a":260,"b":460,"c":1730,"d":1830,"e":3740},
{"t":51.625,"a":1030,"b":1360,"c":680,"d":560,"e":2830},
{"t":51.875,"a":690,"b":860,"c":1210,"d":1400,"e":4330},
{"t":52.125,"a":1160,"b":1050,"c":880,"d":2050,"e":3020},
{"t":52.375,"a":440,"b":300,"c":1480,"d":920,"e":3830},
{"t":52.625,"a":870,"b":1180,"c":740,"d":1630,"e":2560},
{"t":52.875,"a":620,"b":790,"c":1110,"d":1130,"e":4790},
{"t":53.125,"a":1280,"b":1260,"c":520,"d":640,"e":3380},
{"t":53.375,"a":340,"b":500,"c":1650,"d":1820,"e":4000},
{"t":53.625,"a":930,"b":1090,"c":960,"d":1060,"e":2720},
{"t":53.875,"a":700,"b":1320,"c":1270,"d":1530,"e":4430},
{"t":54.125,"a":1190,"b":640,"c":620,"d":2220,"e":3100},
{"t":54.375,"a":280,"b":1040,"c":1530,"d":830,"e":3690},
{"t":54.625,"a":850,"b":420,"c":1080,"d":1420,"e":2640},
{"t":54.875,"a":590,"b":1230,"c":790,"d":1950,"e":4510},
{"t":55.125,"a":1080,"b":750,"c":1400,"d":990,"e":3230},
{"t":55.375,"a":370,"b":1170,"c":580,"d":1630,"e":3910},
{"t":55.625,"a":920,"b":440,"c":1210,"d":580,"e":2970},
{"t":55.875,"a":680,"b":990,"c":970,"d":1350,"e":4160}
]},
"vconcat": [
{
  "width": 604, "height": 89.6,
  "title": {"text": "ae708038010_20130517184413_wam2_bst_4band_nobin.qdp", "anchor": "start", "frame": "group", "offset": 1},
  "layer": [
    {"mark": {"type": "line", "color": "#ff0000", "strokeWidth": 1.5, "clip": true},
     "encoding": {
       "x": {"field": "t", "type": "quantitative", "scale": {"domain": [-9.6, 57.6], "nice": false, "zero": false},
             "axis": {"orient": "bottom", "tickSize": -6, "tickColor": "black", "tickWidth": 3, "values": [0,10,20,30,40,50], "labels": false, "title": null}},
       "y": {"field": "a", "type": "quantitative", "scale": {"domain": [-50, 1500], "nice": false, "zero": false},
             "axis": {"orient": "left", "tickSize": -7, "tickColor": "black", "tickWidth": 3, "values": [0,500,1000], "labelPadding": 17, "title": null}}}},
    {"mark": {"type": "line", "opacity": 0},
     "encoding": {
       "x": {"field": "t", "type": "quantitative", "axis": {"orient": "top", "tickSize": -6, "tickColor": "black", "tickWidth": 3, "values": [0,10,20,30,40,50], "labels": false, "title": null}},
       "y": {"field": "a", "type": "quantitative", "axis": {"orient": "right", "tickSize": -7, "tickColor": "black", "tickWidth": 3, "values": [0,500,1000], "labels": false, "title": null}}}},
    {"mark": {"type": "line", "opacity": 0},
     "encoding": {
       "x": {"field": "t", "type": "quantitative", "axis": {"orient": "bottom", "tickSize": -3, "tickColor": "black", "tickWidth": 3, "values": [-8,-6,-4,-2,2,4,6,8,12,14,16,18,22,24,26,28,32,34,36,38,42,44,46,48,52,54,56], "labels": false, "title": null}},
       "y": {"field": "a", "type": "quantitative", "axis": {"orient": "left", "tickSize": -4, "tickColor": "black", "tickWidth": 3, "values": [100,200,300,400,600,700,800,900,1100,1200,1300,1400,1500], "labels": false, "title": null}}}},
    {"mark": {"type": "line", "opacity": 0},
     "encoding": {
       "x": {"field": "t", "type": "quantitative", "axis": {"orient": "top", "tickSize": -3, "tickColor": "black", "tickWidth": 3, "values": [-8,-6,-4,-2,2,4,6,8,12,14,16,18,22,24,26,28,32,34,36,38,42,44,46,48,52,54,56], "labels": false, "title": null}},
       "y": {"field": "a", "type": "quantitative", "axis": {"orient": "right", "tickSize": -4, "tickColor": "black", "tickWidth": 3, "values": [100,200,300,400,600,700,800,900,1100,1200,1300,1400,1500], "labels": false, "title": null}}}},
    {"data": {"values": [{"label": "TH0"}]},
     "mark": {"type": "text", "align": "right", "baseline": "top", "dx": -7, "dy": 5, "fontSize": 15, "color": "black"},
     "encoding": {"text": {"field": "label"}, "x": {"datum": 57.6, "type": "quantitative", "axis": null}, "y": {"datum": 1500, "type": "quantitative", "axis": null}}}
  ],
  "resolve": {"axis": {"x": "independent", "y": "independent"}}
},
{
  "width": 604, "height": 89.6,
  "layer": [
    {"mark": {"type": "line", "color": "#00ff00", "strokeWidth": 1.5, "clip": true},
     "encoding": {
       "x": {"field": "t", "type": "quantitative", "scale": {"domain": [-9.6, 57.6], "nice": false, "zero": false},
             "axis": {"orient": "bottom", "tickSize": -6, "tickColor": "black", "tickWidth": 3, "values": [0,10,20,30,40,50], "labels": false, "title": null}},
       "y": {"field": "b", "type": "quantitative", "scale": {"domain": [-50, 1500], "nice": false, "zero": false},
             "axis": {"orient": "left", "tickSize": -7, "tickColor": "black", "tickWidth": 3, "values": [0,500,1000], "labelPadding": 17, "title": null}}}},
    {"mark": {"type": "line", "opacity": 0},
     "encoding": {
       "x": {"field": "t", "type": "quantitative", "axis": {"orient": "top", "tickSize": -6, "tickColor": "black", "tickWidth": 3, "values": [0,10,20,30,40,50], "labels": false, "title": null}},
       "y": {"field": "b", "type": "quantitative", "axis": {"orient": "right", "tickSize": -7, "tickColor": "black", "tickWidth": 3, "values": [0,500,1000], "labels": false, "title": null}}}},
    {"mark": {"type": "line", "opacity": 0},
     "encoding": {
       "x": {"field": "t", "type": "quantitative", "axis": {"orient": "bottom", "tickSize": -3, "tickColor": "black", "tickWidth": 3, "values": [-8,-6,-4,-2,2,4,6,8,12,14,16,18,22,24,26,28,32,34,36,38,42,44,46,48,52,54,56], "labels": false, "title": null}},
       "y": {"field": "b", "type": "quantitative", "axis": {"orient": "left", "tickSize": -4, "tickColor": "black", "tickWidth": 3, "values": [100,200,300,400,600,700,800,900,1100,1200,1300,1400,1500], "labels": false, "title": null}}}},
    {"mark": {"type": "line", "opacity": 0},
     "encoding": {
       "x": {"field": "t", "type": "quantitative", "axis": {"orient": "top", "tickSize": -3, "tickColor": "black", "tickWidth": 3, "values": [-8,-6,-4,-2,2,4,6,8,12,14,16,18,22,24,26,28,32,34,36,38,42,44,46,48,52,54,56], "labels": false, "title": null}},
       "y": {"field": "b", "type": "quantitative", "axis": {"orient": "right", "tickSize": -4, "tickColor": "black", "tickWidth": 3, "values": [100,200,300,400,600,700,800,900,1100,1200,1300,1400,1500], "labels": false, "title": null}}}},
    {"data": {"values": [{"label": "TH1"}]},
     "mark": {"type": "text", "align": "right", "baseline": "top", "dx": -7, "dy": 5, "fontSize": 15, "color": "black"},
     "encoding": {"text": {"field": "label"}, "x": {"datum": 57.6, "type": "quantitative", "axis": null}, "y": {"datum": 1500, "type": "quantitative", "axis": null}}}
  ],
  "resolve": {"axis": {"x": "independent", "y": "independent"}}
},
{
  "width": 604, "height": 89.6,
  "layer": [
    {"mark": {"type": "line", "color": "#0000ff", "strokeWidth": 1.5, "clip": true},
     "encoding": {
       "x": {"field": "t", "type": "quantitative", "scale": {"domain": [-9.6, 57.6], "nice": false, "zero": false},
             "axis": {"orient": "bottom", "tickSize": -6, "tickColor": "black", "tickWidth": 3, "values": [0,10,20,30,40,50], "labels": false, "title": null}},
       "y": {"field": "c", "type": "quantitative", "scale": {"domain": [180, 2210], "nice": false, "zero": false},
             "axis": {"orient": "left", "tickSize": -7, "tickColor": "black", "tickWidth": 3, "values": [500,1000,1500,2000], "labelPadding": 17, "title": "Counts/sec", "titlePadding": 16}}}},
    {"mark": {"type": "line", "opacity": 0},
     "encoding": {
       "x": {"field": "t", "type": "quantitative", "axis": {"orient": "top", "tickSize": -6, "tickColor": "black", "tickWidth": 3, "values": [0,10,20,30,40,50], "labels": false, "title": null}},
       "y": {"field": "c", "type": "quantitative", "axis": {"orient": "right", "tickSize": -7, "tickColor": "black", "tickWidth": 3, "values": [500,1000,1500,2000], "labels": false, "title": null}}}},
    {"mark": {"type": "line", "opacity": 0},
     "encoding": {
       "x": {"field": "t", "type": "quantitative", "axis": {"orient": "bottom", "tickSize": -3, "tickColor": "black", "tickWidth": 3, "values": [-8,-6,-4,-2,2,4,6,8,12,14,16,18,22,24,26,28,32,34,36,38,42,44,46,48,52,54,56], "labels": false, "title": null}},
       "y": {"field": "c", "type": "quantitative", "axis": {"orient": "left", "tickSize": -4, "tickColor": "black", "tickWidth": 3, "values": [200,300,400,600,700,800,900,1100,1200,1300,1400,1600,1700,1800,1900,2100,2200], "labels": false, "title": null}}}},
    {"mark": {"type": "line", "opacity": 0},
     "encoding": {
       "x": {"field": "t", "type": "quantitative", "axis": {"orient": "top", "tickSize": -3, "tickColor": "black", "tickWidth": 3, "values": [-8,-6,-4,-2,2,4,6,8,12,14,16,18,22,24,26,28,32,34,36,38,42,44,46,48,52,54,56], "labels": false, "title": null}},
       "y": {"field": "c", "type": "quantitative", "axis": {"orient": "right", "tickSize": -4, "tickColor": "black", "tickWidth": 3, "values": [200,300,400,600,700,800,900,1100,1200,1300,1400,1600,1700,1800,1900,2100,2200], "labels": false, "title": null}}}},
    {"data": {"values": [{"label": "TH2"}]},
     "mark": {"type": "text", "align": "right", "baseline": "top", "dx": -7, "dy": 5, "fontSize": 15, "color": "black"},
     "encoding": {"text": {"field": "label"}, "x": {"datum": 57.6, "type": "quantitative", "axis": null}, "y": {"datum": 2210, "type": "quantitative", "axis": null}}}
  ],
  "resolve": {"axis": {"x": "independent", "y": "independent"}}
},
{
  "width": 604, "height": 89.6,
  "layer": [
    {"mark": {"type": "line", "color": "#00ffff", "strokeWidth": 1.5, "clip": true},
     "encoding": {
       "x": {"field": "t", "type": "quantitative", "scale": {"domain": [-9.6, 57.6], "nice": false, "zero": false},
             "axis": {"orient": "bottom", "tickSize": -6, "tickColor": "black", "tickWidth": 3, "values": [0,10,20,30,40,50], "labels": false, "title": null}},
       "y": {"field": "d", "type": "quantitative", "scale": {"domain": [150, 2420], "nice": false, "zero": false},
             "axis": {"orient": "left", "tickSize": -7, "tickColor": "black", "tickWidth": 3, "values": [500,1000,1500,2000], "labelPadding": 17, "title": null}}}},
    {"mark": {"type": "line", "opacity": 0},
     "encoding": {
       "x": {"field": "t", "type": "quantitative", "axis": {"orient": "top", "tickSize": -6, "tickColor": "black", "tickWidth": 3, "values": [0,10,20,30,40,50], "labels": false, "title": null}},
       "y": {"field": "d", "type": "quantitative", "axis": {"orient": "right", "tickSize": -7, "tickColor": "black", "tickWidth": 3, "values": [500,1000,1500,2000], "labels": false, "title": null}}}},
    {"mark": {"type": "line", "opacity": 0},
     "encoding": {
       "x": {"field": "t", "type": "quantitative", "axis": {"orient": "bottom", "tickSize": -3, "tickColor": "black", "tickWidth": 3, "values": [-8,-6,-4,-2,2,4,6,8,12,14,16,18,22,24,26,28,32,34,36,38,42,44,46,48,52,54,56], "labels": false, "title": null}},
       "y": {"field": "d", "type": "quantitative", "axis": {"orient": "left", "tickSize": -4, "tickColor": "black", "tickWidth": 3, "values": [200,300,400,600,700,800,900,1100,1200,1300,1400,1600,1700,1800,1900,2100,2200,2300,2400], "labels": false, "title": null}}}},
    {"mark": {"type": "line", "opacity": 0},
     "encoding": {
       "x": {"field": "t", "type": "quantitative", "axis": {"orient": "top", "tickSize": -3, "tickColor": "black", "tickWidth": 3, "values": [-8,-6,-4,-2,2,4,6,8,12,14,16,18,22,24,26,28,32,34,36,38,42,44,46,48,52,54,56], "labels": false, "title": null}},
       "y": {"field": "d", "type": "quantitative", "axis": {"orient": "right", "tickSize": -4, "tickColor": "black", "tickWidth": 3, "values": [200,300,400,600,700,800,900,1100,1200,1300,1400,1600,1700,1800,1900,2100,2200,2300,2400], "labels": false, "title": null}}}},
    {"data": {"values": [{"label": "TH3"}]},
     "mark": {"type": "text", "align": "right", "baseline": "top", "dx": -7, "dy": 5, "fontSize": 15, "color": "black"},
     "encoding": {"text": {"field": "label"}, "x": {"datum": 57.6, "type": "quantitative", "axis": null}, "y": {"datum": 2420, "type": "quantitative", "axis": null}}}
  ],
  "resolve": {"axis": {"x": "independent", "y": "independent"}}
},
{
  "width": 604, "height": 89.6,
  "layer": [
    {"mark": {"type": "line", "color": "#ff00ff", "strokeWidth": 1.5, "clip": true},
     "encoding": {
       "x": {"field": "t", "type": "quantitative", "scale": {"domain": [-9.6, 57.6], "nice": false, "zero": false},
             "axis": {"orient": "bottom", "tickSize": -6, "tickColor": "black", "tickWidth": 3, "values": [0,10,20,30,40,50], "labelPadding": 10, "title": "Time [sec] 0 = 2013/05/17 18:44:13.644", "titlePadding": 5}},
       "y": {"field": "e", "type": "quantitative", "scale": {"domain": [1360, 5540], "nice": false, "zero": false},
             "axis": {"orient": "left", "tickSize": -7, "tickColor": "black", "tickWidth": 3, "values": [2000,3000,4000,5000], "labelPadding": 17, "title": null}}}},
    {"mark": {"type": "line", "opacity": 0},
     "encoding": {
       "x": {"field": "t", "type": "quantitative", "axis": {"orient": "top", "tickSize": -6, "tickColor": "black", "tickWidth": 3, "values": [0,10,20,30,40,50], "labels": false, "title": null}},
       "y": {"field": "e", "type": "quantitative", "axis": {"orient": "right", "tickSize": -7, "tickColor": "black", "tickWidth": 3, "values": [2000,3000,4000,5000], "labels": false, "title": null}}}},
    {"mark": {"type": "line", "opacity": 0},
     "encoding": {
       "x": {"field": "t", "type": "quantitative", "axis": {"orient": "bottom", "tickSize": -3, "tickColor": "black", "tickWidth": 3, "values": [-8,-6,-4,-2,2,4,6,8,12,14,16,18,22,24,26,28,32,34,36,38,42,44,46,48,52,54,56], "labels": false, "title": null}},
       "y": {"field": "e", "type": "quantitative", "axis": {"orient": "left", "tickSize": -4, "tickColor": "black", "tickWidth": 3, "values": [1500,1750,2250,2500,2750,3250,3500,3750,4250,4500,4750,5250,5500], "labels": false, "title": null}}}},
    {"mark": {"type": "line", "opacity": 0},
     "encoding": {
       "x": {"field": "t", "type": "quantitative", "axis": {"orient": "top", "tickSize": -3, "tickColor": "black", "tickWidth": 3, "values": [-8,-6,-4,-2,2,4,6,8,12,14,16,18,22,24,26,28,32,34,36,38,42,44,46,48,52,54,56], "labels": false, "title": null}},
       "y": {"field": "e", "type": "quantitative", "axis": {"orient": "right", "tickSize": -4, "tickColor": "black", "tickWidth": 3, "values": [1500,1750,2250,2500,2750,3250,3500,3750,4250,4500,4750,5250,5500], "labels": false, "title": null}}}},
    {"data": {"values": [{"label": "TH0123"}]},
     "mark": {"type": "text", "align": "right", "baseline": "top", "dx": -2, "dy": 5, "fontSize": 15, "color": "black"},
     "encoding": {"text": {"field": "label"}, "x": {"datum": 57.6, "type": "quantitative", "axis": null}, "y": {"datum": 5540, "type": "quantitative", "axis": null}}}
  ],
  "resolve": {"axis": {"x": "independent", "y": "independent"}}
}
]
}
